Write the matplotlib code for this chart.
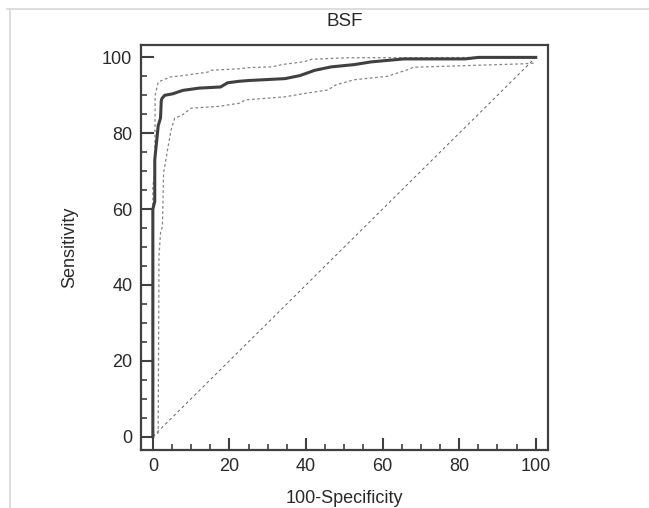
from matplotlib import pyplot as plt
from matplotlib.lines import Line2D
from matplotlib.ticker import MultipleLocator

# ROC curve for BSF
roc_x = [0, 0, 0.5, 0.5, 1.0, 1.4, 2.0, 2.2, 2.4, 3.1, 5.2, 7.8, 12.1, 17.7,
         19.5, 22.5, 25, 34.5, 38.4, 42.3, 46.6, 52.6, 56.9, 61.2, 65.6,
         81.5, 85, 87.5, 100]
roc_y = [0, 60, 62, 73, 78, 82, 84, 88.6, 89.2, 90, 90.4, 91.3, 91.9, 92.2,
         93.3, 93.7, 93.9, 94.4, 95.2, 96.6, 97.5, 98.1, 98.8, 99.2, 99.6,
         99.6, 100, 100, 100]

# 95% confidence bounds
upper_x = [0, 0, 0.5, 0.6, 1.4, 4.4, 7.8, 14.3, 15.2, 22.5, 25, 31.1, 33.7,
           39.7, 41.4, 50.9, 100]
upper_y = [0, 66, 70, 90, 93.5, 94.8, 95.2, 96.1, 96.6, 97, 97.3, 97.5, 98.1,
           98.9, 99.5, 99.9, 100]

lower_x = [0, 1.4, 1.6, 2.0, 2.5, 2.8, 4.0, 4.8, 5.7, 7.4, 10, 17.3, 22.5,
           24.2, 34.5, 39.7, 45.7, 47.9, 52.6, 61.2, 66.4, 68.1, 96.6, 100]
lower_y = [0, 1, 47.5, 53.7, 55.4, 69.5, 76.6, 81, 84, 84.6, 86.6, 87.1, 87.9,
           88.8, 89.6, 90.5, 91.4, 92.8, 94.1, 95, 96.7, 97.4, 98.3, 98.5]

chance_x = [0, 100]
chance_y = [0, 100]

DARK = "#404040"


def plot_roc():
    plt.rcParams["font.family"] = ["Liberation Sans", "DejaVu Sans"]
    fig = plt.figure(figsize=(6.49, 5.08), dpi=100)

    # light frame around the picture (top and left edges only)
    fig.add_artist(Line2D([7 / 649, 1], [1 - 9 / 508, 1 - 9 / 508],
                          transform=fig.transFigure, color="#d8d8d8", lw=1.2))
    fig.add_artist(Line2D([9.5 / 649, 9.5 / 649], [0, 1 - 9 / 508],
                          transform=fig.transFigure, color="#d8d8d8", lw=1.2))

    ax = fig.add_axes([140.6 / 649, 58.5 / 508, 407.4 / 649, 405 / 508])

    ax.plot(chance_x, chance_y, color="#606060", lw=0.7,
            linestyle=(0, (3, 3)))
    ax.plot(upper_x, upper_y, color="#858585", lw=0.9,
            linestyle=(0, (2.2, 2)))
    ax.plot(lower_x, lower_y, color="#858585", lw=0.9,
            linestyle=(0, (2.2, 2)))
    ax.plot(roc_x, roc_y, color=DARK, lw=2.2, solid_joinstyle="miter")

    ax.set_xlim(-3.2, 103.2)
    ax.set_ylim(-3.4, 103.4)
    ax.xaxis.set_major_locator(MultipleLocator(20))
    ax.xaxis.set_minor_locator(MultipleLocator(5))
    ax.yaxis.set_major_locator(MultipleLocator(20))
    ax.yaxis.set_minor_locator(MultipleLocator(5))

    for spine in ax.spines.values():
        spine.set_color(DARK)
        spine.set_linewidth(1.6)

    ax.tick_params(which="major", direction="in", length=9, width=1.5,
                   color=DARK, labelsize=13, labelcolor="#2a2a2a", pad=6)
    ax.tick_params(which="minor", direction="in", length=4.5, width=1.2,
                   color=DARK)
    ax.tick_params(top=False, right=False, which="both")

    ax.set_title("BSF", fontsize=13.5, color="#2a2a2a", pad=13)
    ax.set_xlabel("100-Specificity", fontsize=13, color="#2a2a2a", labelpad=11)
    ax.set_ylabel("Sensitivity", fontsize=13, color="#2a2a2a", labelpad=17)

    fig.savefig("out.png", dpi=100)


if __name__ == "__main__":
    plot_roc()
